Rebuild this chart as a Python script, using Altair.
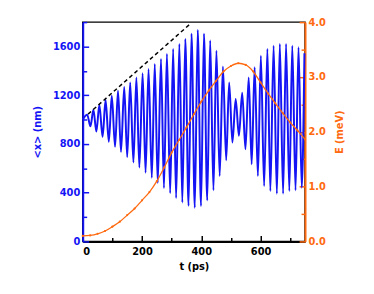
import altair as alt
import pandas as pd

BLUE = "#1414F5"
ORANGE = "#FF6A10"
FONT = "DejaVu Sans"

# oscillating <x>(t): start point, maxima and minima
t_start = [0]
x_start = [1000]
t_peak = [15, 36, 56, 77, 98, 119, 140, 160, 181, 202, 222, 243, 264, 284, 305, 326,
          346, 367, 388, 409, 430, 451, 473, 494, 516, 538, 560, 580, 601, 623, 644,
          665, 686, 707, 728, 748]
x_peak = [1040, 1080, 1120, 1160, 1196, 1237, 1268, 1305, 1345, 1380, 1415, 1457, 1498,
          1539, 1580, 1621, 1662, 1705, 1735, 1705, 1650, 1566, 1435, 1305, 1170, 1220,
          1345, 1430, 1525, 1580, 1607, 1621, 1621, 1607, 1593, 1545]
t_trough = [26, 46, 67, 88, 109, 129, 150, 171, 191, 212, 233, 253, 274, 295, 315, 336,
            357, 378, 399, 420, 441, 462, 484, 505, 527, 549, 570, 591, 612, 633, 655,
            676, 697, 718, 739]
x_trough = [945, 902, 860, 818, 776, 735, 692, 648, 606, 564, 522, 480, 438, 396, 356,
            320, 292, 277, 290, 337, 420, 537, 667, 812, 867, 757, 634, 537, 455, 414,
            392, 392, 414, 420, 441]

# dashed guide line along the growing maxima
t_fit = [18, 361]
x_fit = [1045, 1782]

# energy E(t) in meV
t_E = [0, 25, 50, 75, 100, 125, 150, 175, 200, 225, 250, 275, 300, 325, 350, 375, 400,
       425, 450, 475, 500, 525, 550, 575, 600, 625, 650, 675, 700, 725, 750]
E_val = [0.10, 0.11, 0.14, 0.19, 0.27, 0.36, 0.48, 0.60, 0.75, 0.90, 1.10, 1.35, 1.62,
         1.85, 2.08, 2.32, 2.55, 2.75, 2.93, 3.10, 3.20, 3.25, 3.22, 3.10, 2.90, 2.70,
         2.52, 2.34, 2.17, 2.02, 1.86]

# axis tick positions
t_major = [0, 200, 400, 600]
t_minor = [100, 300, 500, 700]
x_major = [0, 400, 800, 1200, 1600]
x_minor = [200, 600, 1000, 1400, 1800]
E_major = [0, 1, 2, 3, 4]
E_minor = [0.5, 1.5, 2.5, 3.5]

osc = pd.DataFrame({"t": t_start + t_peak + t_trough,
                    "x": x_start + x_peak + x_trough}).sort_values("t")
fit = pd.DataFrame({"t": t_fit, "x": x_fit})
energy = pd.DataFrame({"t": t_E, "E": E_val})


def x_sc():
    return alt.Scale(domain=[0, 750], nice=False, zero=False)


def yl_sc():
    return alt.Scale(domain=[0, 1800], nice=False)


def yr_sc():
    return alt.Scale(domain=[0, 4], nice=False)


def tick_axis(values, size, color, orient):
    return alt.Axis(values=values, orient=orient, offset=-size, tickSize=size,
                    tickColor=color, tickWidth=1.5, labels=False, domain=False,
                    title=None, grid=False)


x_main = alt.Axis(title="t (ps)", orient="bottom", values=t_major, ticks=False,
                  domainColor="black", domainWidth=2, labelColor="black",
                  titleColor="black", labelPadding=5, titlePadding=6, grid=False)
yl_main = alt.Axis(title="<x> (nm)", values=x_major, format="d", ticks=False,
                   domainColor=BLUE, domainWidth=2, labelColor=BLUE, titleColor=BLUE,
                   labelPadding=3, titlePadding=10, grid=False, orient="left")
yr_main = alt.Axis(title="E (meV)", orient="right", values=E_major, format=".1f",
                   ticks=False, domainColor=ORANGE, domainWidth=2, labelColor=ORANGE,
                   titleColor=ORANGE, labelPadding=3, titlePadding=19,
                   titleAngle=270, grid=False)

osc_line = alt.Chart(osc).mark_line(
    color=BLUE, strokeWidth=2, interpolate="monotone"
).encode(
    x=alt.X("t:Q", scale=x_sc(), axis=x_main),
    y=alt.Y("x:Q", scale=yl_sc(), axis=yl_main),
)

fit_line = alt.Chart(fit).mark_line(
    color="black", strokeWidth=1.5, strokeDash=[4, 3]
).encode(
    x=alt.X("t:Q", scale=x_sc(), axis=tick_axis(t_major, 6, "black", "bottom")),
    y=alt.Y("x:Q", scale=yl_sc(), axis=tick_axis(x_major, 6, BLUE, "left")),
)

ghost_left = alt.Chart(fit).mark_line(opacity=0).encode(
    x=alt.X("t:Q", scale=x_sc(), axis=tick_axis(t_minor, 4, "black", "bottom")),
    y=alt.Y("x:Q", scale=yl_sc(), axis=tick_axis(x_minor, 4, BLUE, "left")),
)

e_line = alt.Chart(energy).mark_line(
    color=ORANGE, strokeWidth=1.3, interpolate="monotone",
    point=alt.OverlayMarkDef(size=5, filled=True, color=ORANGE),
).encode(
    x=alt.X("t:Q", scale=x_sc(), axis=None),
    y=alt.Y("E:Q", scale=yr_sc(), axis=yr_main),
)

ghost_r1 = alt.Chart(energy).mark_line(opacity=0).encode(
    x=alt.X("t:Q", scale=x_sc(), axis=None),
    y=alt.Y("E:Q", scale=yr_sc(), axis=tick_axis(E_major, 6, ORANGE, "right")),
)

ghost_r2 = alt.Chart(energy).mark_line(opacity=0).encode(
    x=alt.X("t:Q", scale=x_sc(), axis=None),
    y=alt.Y("E:Q", scale=yr_sc(), axis=tick_axis(E_minor, 4, ORANGE, "right")),
)

chart = alt.layer(
    ghost_left, ghost_r1, ghost_r2, osc_line, fit_line, e_line
).resolve_scale(x="independent", y="independent").properties(
    width=226, height=223,
    autosize=alt.AutoSizeParams(type="none"),
    padding={"left": 76, "top": 12, "right": 62, "bottom": 46},
).configure_view(
    stroke="black", strokeWidth=1.5
).configure_axis(
    labelFont=FONT, labelFontSize=10, labelFontWeight="bold",
    titleFont=FONT, titleFontSize=10, titleFontWeight="bold",
)

chart.save("out.html", embed_options={"renderer": "svg", "actions": False})
